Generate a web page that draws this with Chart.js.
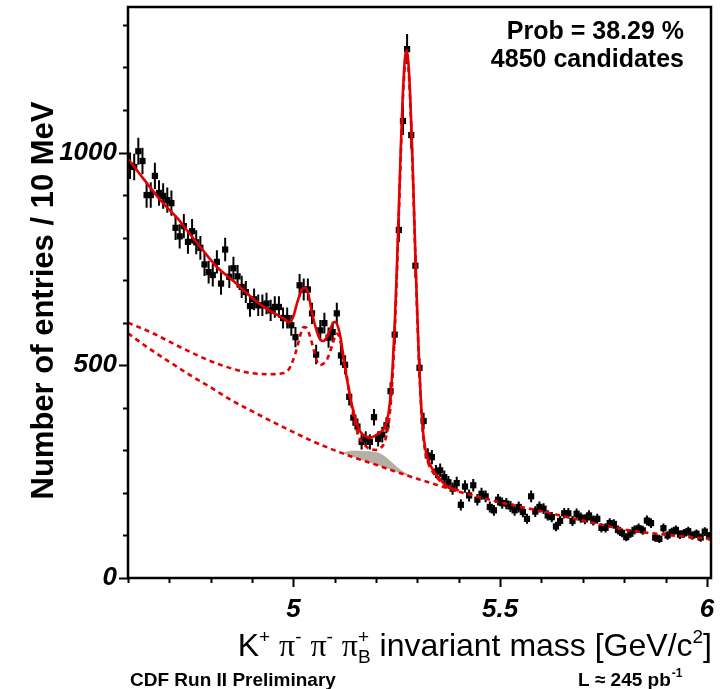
<!DOCTYPE html>
<html>
<head>
<meta charset="utf-8">
<script src="https://cdn.jsdelivr.net/npm/chart.js@4/dist/chart.umd.min.js"></script>
<style>
html,body{margin:0;padding:0;background:#fff;}
#wrap{position:relative;width:720px;height:689px;}
</style>
</head>
<body>
<div id="wrap"><canvas id="c" width="720" height="689"></canvas></div>
<script>
// ---------------- data ----------------
const binStart = 4.60;      // GeV, lower edge of first bin
const binWidth = 0.01;      // GeV (10 MeV bins)
const counts = [
  969, 966, 1003, 980, 900, 900, 945, 905, 898, 888,
  881, 823, 803, 827, 790, 815, 789, 776, 737, 719,
  712, 743, 692, 772, 708, 728, 709, 684, 672, 639,
  655, 641, 641, 645, 629, 637, 637, 611, 611, 594,
  566, 688, 678, 678, 622, 525, 582, 599, 565, 578,
  622, 523, 501, 426, 377, 356, 320, 327, 320, 378,
  327, 337, 359, 439, 572, 818, 1074, 1243, 1041, 734,
  494, 369, 288, 284, 250, 253, 237, 225, 210, 223,
  172, 215, 194, 218, 184, 198, 192, 167, 159, 184,
  176, 175, 168, 159, 167, 155, 139, 192, 156, 167,
  163, 147, 143, 121, 134, 152, 152, 134, 151, 142,
  138, 147, 135, 139, 118, 118, 129, 127, 113, 106,
  96, 104, 113, 117, 112, 135, 129, 95, 92, 117,
  100, 108, 113, 102, 105, 110, 100, 104, 95, 109, 98
];

// total fit (solid red)
const totalFit = [
  [4.600,985],[4.640,935],[4.682,884],[4.720,845],[4.742,818],[4.775,778],[4.815,731],
  [4.855,698],[4.895,663],[4.936,632],[4.976,610],[4.990,601],[5.000,615],[5.008,643],
  [5.016,667],[5.024,681],[5.030,682],[5.036,668],[5.044,628],[5.055,585],[5.064,562],
  [5.072,557],[5.079,563],[5.087,580],[5.094,596],[5.101,602],[5.108,590],[5.115,560],
  [5.121,518],[5.130,465],[5.137,428],[5.145,392],[5.153,364],[5.160,347],[5.168,337],
  [5.185,330],[5.200,336],[5.210,343],[5.220,352],[5.230,387],[5.235,429],[5.240,496],
  [5.245,593],[5.250,721],[5.255,868],[5.260,1017],[5.265,1143],[5.270,1223],[5.274,1240],
  [5.278,1213],[5.283,1122],[5.288,985],[5.293,826],[5.298,668],[5.303,531],[5.308,424],
  [5.313,350],[5.318,310],[5.323,288],[5.330,268],[5.340,250],[5.350,238],[5.366,220],
  [5.380,212],[5.400,205]
];

// fit without the low-mass broad component (upper dashed red)
const partialFit = [
  [4.600,600],[4.654,578],[4.734,539],[4.815,504],[4.895,482],[4.944,479],[4.976,482],
  [4.990,492],[4.996,504],[5.004,525],[5.012,553],[5.018,575],[5.024,589],[5.030,589],
  [5.036,580],[5.042,562],[5.048,541],[5.056,512],[5.0645,500],[5.073,504],[5.081,513],
  [5.089,533],[5.097,557],[5.104,574],[5.110,570],[5.117,540],[5.125,500],[5.137,425],
  [5.150,360],[5.160,330],[5.170,315],[5.180,306],[5.190,302],[5.200,301],[5.210,305],
  [5.220,318],[5.230,360],[5.235,405],[5.240,475],[5.245,575],[5.250,705],[5.255,852],
  [5.260,1002],[5.265,1128],[5.270,1208],[5.274,1226],[5.278,1200],[5.283,1110],
  [5.288,975],[5.293,817],[5.298,660],[5.303,524],[5.308,418],[5.313,344],[5.318,302],
  [5.323,280],[5.330,260],[5.340,245],[5.350,233],[5.366,217],[5.380,210],[5.400,203]
];

// combinatorial background (lower dashed red)
const backgroundFit = [
  [4.60,575],[4.65,540],[4.70,508],[4.75,477],[4.80,448],[4.85,418],[4.90,392],[4.95,367],
  [5.00,343],[5.05,320],[5.10,300],[5.15,282],[5.20,266],[5.25,249],[5.30,233],[5.35,218],
  [5.40,203],[5.45,190],[5.50,178],[5.55,167],[5.60,157],[5.65,146],[5.70,135],[5.75,124],
  [5.80,114],[5.85,107],[5.90,102],[5.95,97],[6.01,92]
];

// shaded (grey) component
const shadedX    = [5.100, 5.120, 5.140, 5.160, 5.180, 5.200, 5.215, 5.230, 5.245, 5.260, 5.275, 5.290];
const shadedTop  = [300,   295,   299,   299,   298,   296,   290,   279,   266,   254,   245,   237];
const shadedBase = [300,   293,   286,   279,   273,   266,   261,   256,   251,   246,   241,   237];

const xMajorLabels = ['5', '5.5', '6'];
const yMajorLabels = ['0', '500', '1000'];

// ---------------- build chart ----------------
const RED = 'rgb(228,0,0)';
const points = counts.map((n, i) => ({x: binStart + binWidth * (i + 0.5), y: n}));
const toXY = arr => arr.map(p => ({x: p[0], y: p[1]}));

const errorBars = {
  id: 'errorBars',
  beforeDatasetDraw(chart, args) {
    if (args.index !== 0) return;
    const {ctx, chartArea: a, scales: {x, y}} = chart;
    ctx.save();
    ctx.beginPath(); ctx.rect(a.left, a.top, a.right - a.left, a.bottom - a.top); ctx.clip();
    ctx.strokeStyle = '#000'; ctx.lineWidth = 2;
    ctx.beginPath();
    points.forEach(p => {
      const e = Math.sqrt(p.y);
      const px = x.getPixelForValue(p.x);
      ctx.moveTo(px, y.getPixelForValue(p.y + e));
      ctx.lineTo(px, y.getPixelForValue(p.y - e));
    });
    ctx.stroke();
    ctx.restore();
  }
};

function drawRich(ctx, parts, rightX, baseY, size) {
  const mainF = `${size}px "Liberation Sans"`;
  const greekF = `${size}px "Liberation Serif"`;
  const smallF = `${Math.round(size * 0.6)}px "Liberation Sans"`;
  const supDy = -Math.round(size * 0.42), subDy = Math.round(size * 0.22);
  const widthOf = p => {
    if (p.text !== undefined) { ctx.font = p.greek ? greekF : mainF; return ctx.measureText(p.text).width; }
    ctx.font = smallF;
    return Math.max(p.sup ? ctx.measureText(p.sup).width : 0, p.sub ? ctx.measureText(p.sub).width : 0);
  };
  let total = 0; parts.forEach(p => total += widthOf(p));
  let cx = rightX - total;
  ctx.textAlign = 'left'; ctx.textBaseline = 'alphabetic';
  parts.forEach(p => {
    const w = widthOf(p);
    if (p.text !== undefined) {
      ctx.font = p.greek ? greekF : mainF; ctx.fillText(p.text, cx, baseY);
    } else {
      ctx.font = smallF;
      if (p.sup) ctx.fillText(p.sup, cx, baseY + supDy);
      if (p.sub) ctx.fillText(p.sub, cx, baseY + subDy);
    }
    cx += w;
  });
}

const decor = {
  id: 'decor',
  beforeDraw(chart) {
    const ctx = chart.ctx;
    ctx.save(); ctx.fillStyle = '#fff'; ctx.fillRect(0, 0, chart.width, chart.height); ctx.restore();
  },
  afterDraw(chart) {
    const {ctx, chartArea: a, scales: {x, y}} = chart;
    ctx.save();
    ctx.strokeStyle = '#000';
    // ticks
    ctx.lineWidth = 2;
    ctx.beginPath();
    x.ticks.forEach(t => {
      const px = Math.round(x.getPixelForValue(t.value)) + 0.5;
      const major = Math.abs(t.value * 2 - Math.round(t.value * 2)) < 1e-6;
      ctx.moveTo(px, a.bottom); ctx.lineTo(px, a.bottom + (major ? 9 : 5));
    });
    y.ticks.forEach(t => {
      const py = Math.round(y.getPixelForValue(t.value)) + 0.5;
      const major = Math.abs(t.value % 500) < 1e-6;
      ctx.moveTo(a.left, py); ctx.lineTo(a.left - (major ? 9 : 5), py);
    });
    ctx.stroke();
    // frame
    ctx.lineWidth = 2.5;
    ctx.strokeRect(a.left, a.top, a.right - a.left, a.bottom - a.top);

    ctx.fillStyle = '#000';
    // y title
    ctx.save();
    ctx.translate(53, (a.top + a.bottom) / 2 + 8);
    ctx.rotate(-Math.PI / 2);
    ctx.font = 'bold 31px "Liberation Sans"';
    ctx.textAlign = 'center'; ctx.textBaseline = 'alphabetic';
    ctx.fillText('Number of entries / 10 MeV', 0, 0);
    ctx.restore();

    // x title
    drawRich(ctx, [
      {text: 'K'}, {sup: '+'}, {text: ' '},
      {text: 'π', greek: true}, {sup: '-'}, {text: ' '},
      {text: 'π', greek: true}, {sup: '-'}, {text: ' '},
      {text: 'π', greek: true}, {sup: '+', sub: 'B'},
      {text: ' invariant mass [GeV/c'}, {sup: '2'}, {text: ']'}
    ], 712, 656, 32);

    // info box text
    ctx.font = 'bold 25px "Liberation Sans"';
    ctx.textAlign = 'right'; ctx.textBaseline = 'alphabetic';
    ctx.fillText('Prob = 38.29 %', 684, 39);
    ctx.fillText('4850 candidates', 684, 67);

    // footer
    ctx.font = 'bold 19px "Liberation Sans"';
    ctx.textAlign = 'left';
    ctx.fillText('CDF Run II Preliminary', 130, 686);
    ctx.fillText('L ≈ 245 pb', 578, 686);
    const w = ctx.measureText('L ≈ 245 pb').width;
    ctx.font = 'bold 12px "Liberation Sans"';
    ctx.fillText('-1', 578 + w + 1, 677);
    ctx.restore();
  }
};

const tickFont = {family: 'Liberation Sans', size: 26, weight: 'bold', style: 'italic'};

new Chart(document.getElementById('c'), {
  type: 'scatter',
  data: {
    datasets: [
      {label: 'data', data: points, pointStyle: 'rect', pointRadius: 4.4, pointHoverRadius: 4.4,
       backgroundColor: '#000', borderWidth: 0, order: 5},
      {label: 'total fit', data: toXY(totalFit), showLine: true, borderColor: RED, borderWidth: 2.6,
       pointRadius: 0, cubicInterpolationMode: 'monotone', order: 1},
      {label: 'partial', data: toXY(partialFit), showLine: true, borderColor: RED, borderWidth: 2.6,
       borderDash: [5, 4], pointRadius: 0, cubicInterpolationMode: 'monotone', order: 2},
      {label: 'background', data: toXY(backgroundFit), showLine: true, borderColor: RED, borderWidth: 2.6,
       borderDash: [5, 4], pointRadius: 0, cubicInterpolationMode: 'monotone', order: 2},
      {label: 'shaded base', data: shadedX.map((v, i) => ({x: v, y: shadedBase[i]})), showLine: true,
       borderWidth: 0, borderColor: 'rgba(0,0,0,0)', pointRadius: 0, cubicInterpolationMode: 'monotone', order: 10},
      {label: 'shaded', data: shadedX.map((v, i) => ({x: v, y: shadedTop[i]})), showLine: true,
       borderWidth: 0, borderColor: 'rgba(0,0,0,0)', backgroundColor: 'rgb(182,175,166)', fill: '-1',
       pointRadius: 0, cubicInterpolationMode: 'monotone', order: 9}
    ]
  },
  options: {
    responsive: false,
    devicePixelRatio: 1,
    animation: false,
    events: [],
    layout: {padding: {left: 0, right: 9, top: 7, bottom: 0}},
    plugins: {legend: {display: false}, tooltip: {enabled: false}},
    scales: {
      x: {
        type: 'linear', min: 4.6, max: 6.01,
        grid: {display: false, drawTicks: false}, border: {display: false},
        ticks: {
          stepSize: 0.1, includeBounds: false, autoSkip: false, maxRotation: 0, minRotation: 0,
          padding: 16, color: '#000', font: tickFont,
          callback: v => {
            const k = Math.round(v * 2);
            return Math.abs(v * 2 - k) < 1e-6 ? (xMajorLabels[k - 10] ?? '') : '';
          }
        },
        afterFit: s => { s.height = 111; s.paddingLeft = 0; s.paddingRight = 0; }
      },
      y: {
        type: 'linear', min: 0, max: 1342,
        grid: {display: false, drawTicks: false}, border: {display: false},
        ticks: {
          stepSize: 100, includeBounds: false, autoSkip: false, padding: 11, color: '#000', font: tickFont,
          callback: v => (v % 500 === 0 ? (yMajorLabels[v / 500] ?? '') : '')
        },
        afterFit: s => { s.width = 128; s.paddingTop = 0; s.paddingBottom = 0; }
      }
    }
  },
  plugins: [errorBars, decor]
});
</script>
</body>
</html>
